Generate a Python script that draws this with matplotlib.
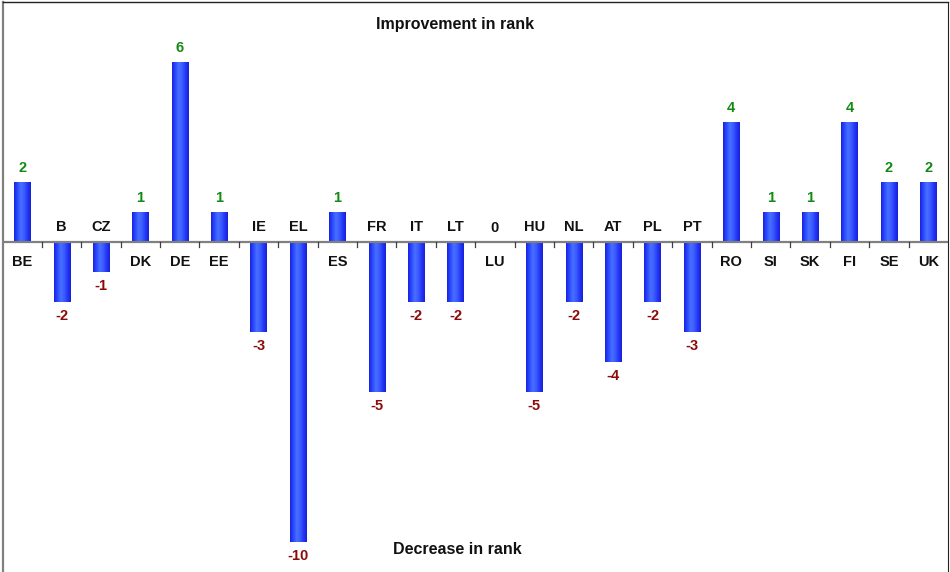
import matplotlib
matplotlib.use("Agg")
import matplotlib.pyplot as plt
import numpy as np
from matplotlib.colors import LinearSegmentedColormap

categories = ["BE", "B", "CZ", "DK", "DE", "EE", "IE", "EL", "ES", "FR", "IT", "LT",
              "LU", "HU", "NL", "AT", "PL", "PT", "RO", "SI", "SK", "FI", "SE", "UK"]
values = [2, -2, -1, 1, 6, 1, -3, -10, 1, -5, -2, -2,
          0, -5, -2, -4, -2, -3, 4, 1, 1, 4, 2, 2]

plt.rcParams['font.family'] = ['Liberation Sans', 'DejaVu Sans']

W, H = 950, 572
fig = plt.figure(figsize=(W / 100, H / 100), dpi=100)
ax = fig.add_axes([2.5 / W, 0, 945.5 / W, 570 / H])

x = np.arange(len(categories))
bars = ax.bar(x, values, width=0.41, color="#2a48ff", zorder=2)

cmap = LinearSegmentedColormap.from_list(
    "barg", ["#1a22e0", "#2a4aff", "#4870ff", "#3c5cff", "#2438f8", "#1820d8"])
grad = np.linspace(0, 1, 64).reshape(1, -1)
for b in bars:
    h = b.get_height()
    if h == 0:
        continue
    x0 = b.get_x()
    w = b.get_width()
    y0, y1 = sorted([0, h])
    im = ax.imshow(grad, cmap=cmap, aspect="auto", extent=[x0, x0 + w, y0, y1],
                   zorder=3, interpolation="bilinear")
    im.set_clip_path(b)

ax.set_xlim(-0.5, len(categories) - 0.5)
ax.set_ylim(-11, 8)

ax.axhline(0, color="#808080", lw=1.6, zorder=4)
for t in np.arange(0.5, len(categories) - 0.5, 1.0):
    ax.plot([t, t], [0, -0.16], color="#404040", lw=0.9, zorder=4)

fs = 10.5
for xi, v, c in zip(x, values, categories):
    if v > 0:
        ax.text(xi, v + 0.47, str(v), ha="center", va="center", color="#138a13",
                fontsize=fs, fontweight="bold")
        ax.text(xi, -0.65, c, ha="center", va="center", color="#111111",
                fontsize=fs, fontweight="bold")
    elif v < 0:
        ax.text(xi, v - 0.47, str(v), ha="center", va="center", color="#8b0a0a",
                fontsize=fs, fontweight="bold")
        ax.text(xi, 0.5, c, ha="center", va="center", color="#111111",
                fontsize=fs, fontweight="bold")
    else:
        ax.text(xi, 0.47, str(v), ha="center", va="center", color="#111111",
                fontsize=fs, fontweight="bold")
        ax.text(xi, -0.65, c, ha="center", va="center", color="#111111",
                fontsize=fs, fontweight="bold")

fig.text(455 / W, 1 - 25 / H, "Improvement in rank", ha="center", va="center",
         fontsize=11.5, fontweight="bold", color="#111111")
fig.text(457 / W, 1 - 549 / H, "Decrease in rank", ha="center", va="center",
         fontsize=11.5, fontweight="bold", color="#111111")

ax.set_xticks([])
ax.set_yticks([])
ax.spines["bottom"].set_visible(False)
ax.spines["left"].set_color("#808080")
ax.spines["left"].set_linewidth(1.6)
ax.spines["top"].set_color("#222222")
ax.spines["top"].set_linewidth(1.0)
ax.spines["right"].set_color("#222222")
ax.spines["right"].set_linewidth(0.8)

fig.savefig("out.png", dpi=100)
